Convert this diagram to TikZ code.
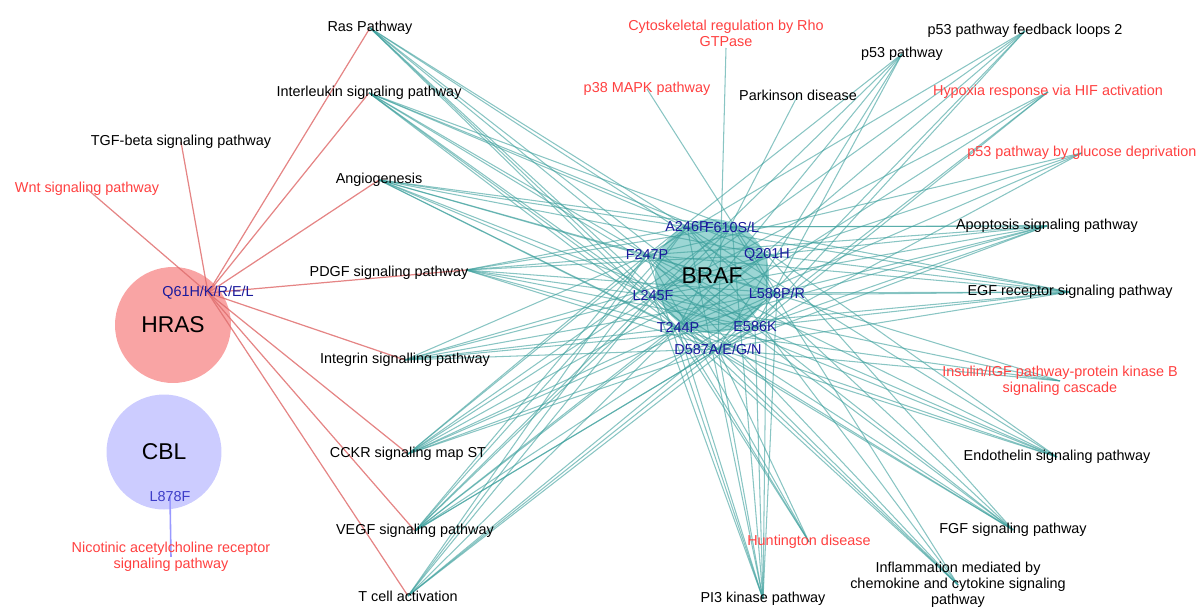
\documentclass[tikz,border=0pt]{standalone}
\usepackage{fontspec}
\setmainfont{Liberation Sans}
\usetikzlibrary{positioning,backgrounds}
\definecolor{pwred}{HTML}{FF4040}
\definecolor{mutblue}{HTML}{1A1A9C}
\definecolor{cblblue}{HTML}{3C3CC8}
\definecolor{hrasfill}{HTML}{F9A4A4}
\definecolor{cblfill}{HTML}{CCCCFF}
\definecolor{braffill}{HTML}{9CD6D4}
\definecolor{brafedge}{HTML}{3A9E9B}
\definecolor{hrasedge}{HTML}{E07070}
\definecolor{cbledge}{HTML}{9999FF}
\tikzset{
  gene/.style={circle, inner sep=0pt, minimum size=2.32cm, font=\fontsize{13}{15}\selectfont},
  pw/.style={align=center, inner sep=0pt, yshift=-1.1pt, font=\fontsize{8.2}{9.2}\selectfont},
  pwr/.style={pw, text=pwred},
  mut/.style={inner sep=0pt, yshift=-1.1pt, text=mutblue, font=\fontsize{8.2}{9.2}\selectfont},
  bedge/.style={draw=brafedge, line width=0.6pt, opacity=0.6},
  hedge/.style={draw=hrasedge, line width=0.7pt, opacity=0.85},
  cedge/.style={draw=cbledge, line width=0.9pt},
}

\begin{document}
\begin{tikzpicture}[x=0.02cm, y=-0.02cm]
  \useasboundingbox (0,0) rectangle (1200,606);

  % genes
  \node[gene] (hras) at (173,325) {HRAS};
  \node[gene] (cbl) at (164,452) {CBL};
  \node[gene] (braf) at (712,276) {BRAF};

  % pathways, left
  \node[pw] (ras) at (370,26) {Ras Pathway};
  \node[pw] (ilk) at (369,91) {Interleukin signaling pathway};
  \node[pw] (tgf) at (181,140) {TGF-beta signaling pathway};
  \node[pwr] (wnt) at (87,187) {Wnt signaling pathway};
  \node[pw] (angio) at (379,178) {Angiogenesis};
  \node[pw] (pdgf) at (389,271) {PDGF signaling pathway};
  \node[pw] (integ) at (405,358) {Integrin signalling pathway};
  \node[pw] (cckr) at (408,452) {CCKR signaling map ST};
  \node[pw] (vegf) at (415,529) {VEGF signaling pathway};
  \node[pw] (tcell) at (408,594) {T cell activation};
  \node[pwr] (nic) at (171,555) {Nicotinic acetylcholine receptor\\signaling pathway};
  % pathways, top
  \node[pwr] (cyto) at (726,31) {Cytoskeletal regulation by Rho\\GTPase};
  \node[pwr] (p38) at (647,87) {p38 MAPK pathway};
  \node[pw] (park) at (798,93) {Parkinson disease};
  \node[pw] (p53) at (902,52) {p53 pathway};
  \node[pw] (p53fb) at (1025,29) {p53 pathway feedback loops 2};
  \node[pwr] (hif) at (1048,90) {Hypoxia response via HIF activation};
  \node[pwr, anchor=west] (gluc) at (967,151) {p53 pathway by glucose deprivation};
  % pathways, right and bottom
  \node[pw] (apop) at (1047,224) {Apoptosis signaling pathway};
  \node[pw] (egfr) at (1070,290) {EGF receptor signaling pathway};
  \node[pwr] (insr) at (1060,379) {Insulin/IGF pathway-protein kinase B\\signaling cascade};
  \node[pw] (endo) at (1057,455) {Endothelin signaling pathway};
  \node[pw] (fgf) at (1013,528) {FGF signaling pathway};
  \node[pw] (infl) at (958,583) {Inflammation mediated by\\chemokine and cytokine signaling\\pathway};
  \node[pwr] (hunt) at (809,540) {Huntington disease};
  \node[pw] (pi3) at (763,597) {PI3 kinase pathway};
  \coordinate (pdgfh) at (466,270);
  \coordinate (cytoh) at (726,48);

  % mutations
  \node[mut] (q61) at (208,291) {Q61H/K/R/E/L};
  \node[mut, text=cblblue] (l878) at (170,495) {L878F};
  \node[mut] (a246) at (687,225) {A246P};
  \node[mut] (f610) at (732,225) {F610S/L};
  \node[mut] (f247) at (647,253) {F247P};
  \node[mut] (q201) at (767,253) {Q201H};
  \node[mut] (l245) at (653,294) {L245F};
  \node[mut] (l588) at (777,291) {L588P/R};
  \node[mut] (t244) at (678,326) {T244P};
  \node[mut] (e586) at (755,325) {E586K};
  \node[mut] (d587) at (718,347) {D587A/E/G/N};

  \begin{scope}[on background layer]
    \fill[hrasfill] (hras.center) circle[radius=1.16cm];
    \fill[cblfill] (cbl.center) circle[radius=1.15cm];
    \fill[braffill] (braf.center) circle[radius=1.14cm];

    \foreach \p in {ras,ilk,tgf,wnt,angio,pdgfh,integ,cckr,vegf,tcell}
      \draw[hedge] (q61.center) -- (\p.center);
    \draw[cedge] (l878.center) -- (nic.center);

    \foreach \p/\ms in {
        ras/{a246,f247,l245,t244,d587,e586,l588},
        ilk/{a246,f610,f247,l245,t244,d587,e586,q201},
        angio/{a246,f610,f247,q201,l245,l588,t244,e586,d587},
        pdgfh/{a246,f610,f247,q201,l245,l588,t244,e586,d587},
        integ/{f247,l245,t244,d587,e586,l588,q201},
        cckr/{a246,f610,f247,q201,l245,l588,t244,e586,d587},
        vegf/{a246,f610,f247,q201,l245,l588,t244,e586,d587},
        tcell/{a246,f247,l245,t244,d587,e586,l588},
        p53/{f247,l245,t244,d587,e586},
        p53fb/{f247,l245,t244,d587,e586},
        hif/{l245,t244,d587,e586},
        gluc/{f247,l245,t244,d587},
        apop/{a246,f610,f247,q201,l245,l588,t244,e586,d587},
        egfr/{a246,f610,f247,q201,l245,l588,t244,e586,d587},
        insr/{f247,l245,t244,d587},
        endo/{a246,f610,f247,l245,t244,d587,e586},
        fgf/{a246,f247,q201,l245,t244,d587,e586},
        infl/{a246,f610,f247,l245,t244,d587},
        hunt/{f247,l245,t244,d587},
        pi3/{a246,f610,f247,q201,l245,l588,t244,e586,d587},
        cytoh/{d587}, p38/{l588}, park/{t244}}
      \foreach \m in \ms
        \draw[bedge] (\p.center) -- (\m.center);
  \end{scope}
\end{tikzpicture}
\end{document}
